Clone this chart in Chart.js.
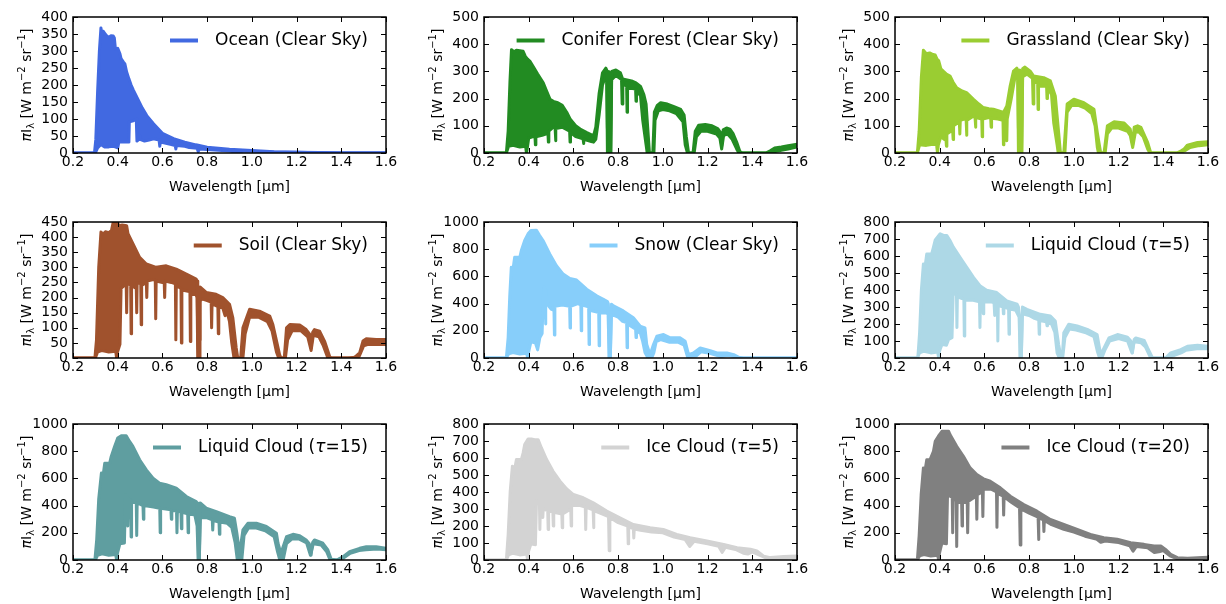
<!DOCTYPE html>
<html><head><meta charset="utf-8">
<script src="https://cdn.jsdelivr.net/npm/chart.js@4.4.1/dist/chart.umd.min.js"></script>
<style>
html,body{margin:0;padding:0;background:#fff;overflow:hidden;}
#wrap{position:relative;width:1226px;height:604px;}
.panel{position:absolute;}
</style></head><body><div id="wrap"></div>
<script>
// ---------- tick values ----------
const WAVELENGTH_TICKS = [0.2,0.4,0.6,0.8,1.0,1.2,1.4,1.6];
const Y_TICKS_400 = [0,50,100,150,200,250,300,350,400];
const Y_TICKS_450 = [0,50,100,150,200,250,300,350,400,450];
const Y_TICKS_500 = [0,100,200,300,400,500];
const Y_TICKS_800 = [0,100,200,300,400,500,600,700,800];
const Y_TICKS_1000 = [0,200,400,600,800,1000];

// ---------- spectra: [wavelength (um), radiance] upper / lower envelopes ----------
const oceanUpper = [[0.2,0],[0.296,0],[0.302,40],[0.31,180],[0.318,300],[0.325,368],[0.33,345],[0.335,358],[0.342,352],[0.35,345],[0.36,340],[0.37,345],[0.38,344],[0.385,338],[0.39,305],[0.40,308],[0.41,292],[0.415,278],[0.425,268],[0.432,262],[0.44,238],[0.45,218],[0.46,200],[0.47,185],[0.49,158],[0.51,132],[0.53,110],[0.56,86],[0.6,58],[0.65,42],[0.7,32],[0.75,24],[0.8,17],[0.9,11],[1.0,7],[1.1,4],[1.2,2.5],[1.3,1.5],[1.4,0.8],[1.5,0.5],[1.6,0.5]];
const oceanLower = [[0.2,0],[0.3,0],[0.31,15],[0.325,25],[0.34,18],[0.36,18],[0.38,20],[0.40,15],[0.405,32],[0.45,32],[0.452,92],[0.47,95],[0.483,100],[0.486,35],[0.495,40],[0.498,52],[0.5,40],[0.52,35],[0.54,38],[0.56,42],[0.585,38],[0.588,20],[0.591,32],[0.64,25],[0.657,22],[0.66,12],[0.663,22],[0.7,20],[0.72,16],[0.755,14],[0.76,4],[0.765,12],[0.8,10],[0.9,6],[0.93,2],[0.96,5],[1.0,5],[1.1,2],[1.2,2],[1.3,1],[1.4,0],[1.6,0.3]];

const coniferUpper = [[0.2,0],[0.3,0],[0.308,80],[0.316,260],[0.323,380],[0.335,372],[0.345,378],[0.36,376],[0.375,374],[0.385,355],[0.395,345],[0.405,338],[0.42,318],[0.44,290],[0.465,258],[0.48,228],[0.495,198],[0.51,190],[0.53,185],[0.55,175],[0.57,150],[0.585,125],[0.61,100],[0.63,88],[0.66,75],[0.69,63],[0.70,95],[0.715,220],[0.73,295],[0.745,312],[0.749,305],[0.752,90],[0.755,90],[0.757,300],[0.759,260],[0.762,0],[0.767,0],[0.771,300],[0.79,305],[0.81,295],[0.82,272],[0.86,265],[0.88,258],[0.9,245],[0.915,215],[0.925,180],[0.935,60],[0.94,0],[0.955,0],[0.962,150],[0.975,175],[0.99,185],[1.02,180],[1.05,170],[1.08,160],[1.095,140],[1.105,60],[1.115,0],[1.135,0],[1.145,80],[1.16,102],[1.19,105],[1.22,100],[1.245,90],[1.256,78],[1.263,25],[1.27,85],[1.285,92],[1.3,88],[1.315,70],[1.33,40],[1.345,5],[1.355,0],[1.46,0],[1.48,8],[1.5,18],[1.53,22],[1.56,27],[1.6,32]];
const coniferLower = [[0.2,0],[0.3,0],[0.31,25],[0.33,28],[0.36,22],[0.386,25],[0.39,0],[0.394,20],[0.4,55],[0.42,60],[0.428,60],[0.43,30],[0.432,60],[0.46,65],[0.486,72],[0.488,40],[0.49,80],[0.51,95],[0.518,92],[0.52,45],[0.522,90],[0.55,95],[0.583,80],[0.585,40],[0.587,75],[0.61,60],[0.643,52],[0.645,35],[0.647,50],[0.68,42],[0.69,40],[0.7,50],[0.715,140],[0.73,250],[0.745,285],[0.749,270],[0.752,0],[0.755,0],[0.757,270],[0.759,200],[0.762,0],[0.767,0],[0.771,270],[0.79,285],[0.815,270],[0.818,180],[0.821,255],[0.838,245],[0.84,150],[0.842,240],[0.878,235],[0.88,190],[0.882,230],[0.9,210],[0.91,120],[0.925,30],[0.93,0],[0.96,0],[0.965,120],[0.98,155],[1.0,160],[1.03,155],[1.06,145],[1.09,115],[1.1,30],[1.11,0],[1.14,0],[1.15,60],[1.17,80],[1.2,80],[1.24,70],[1.255,55],[1.263,15],[1.272,65],[1.29,70],[1.31,50],[1.33,15],[1.34,0],[1.47,0],[1.5,5],[1.53,10],[1.56,15],[1.6,22]];

const grassUpper = [[0.2,0],[0.3,0],[0.308,80],[0.318,280],[0.327,378],[0.34,365],[0.355,368],[0.37,362],[0.38,360],[0.388,345],[0.395,340],[0.405,310],[0.417,300],[0.43,290],[0.446,283],[0.46,260],[0.476,240],[0.5,228],[0.52,222],[0.55,198],[0.575,180],[0.595,167],[0.62,163],[0.64,161],[0.665,155],[0.685,149],[0.7,173],[0.715,246],[0.73,301],[0.745,312],[0.749,305],[0.752,90],[0.755,90],[0.757,305],[0.759,260],[0.762,0],[0.767,0],[0.771,310],[0.78,316],[0.805,301],[0.82,283],[0.865,277],[0.895,265],[0.917,210],[0.932,75],[0.94,0],[0.955,0],[0.97,180],[1.0,198],[1.045,185],[1.09,161],[1.105,75],[1.12,0],[1.135,0],[1.15,100],[1.18,115],[1.225,110],[1.252,88],[1.263,30],[1.27,95],[1.285,100],[1.3,94],[1.33,39],[1.344,0],[1.46,0],[1.48,8],[1.493,15],[1.508,29],[1.553,39],[1.6,41]];
const grassLower = [[0.2,0],[0.3,0],[0.31,30],[0.34,28],[0.37,32],[0.386,30],[0.39,0],[0.394,30],[0.405,60],[0.42,50],[0.428,50],[0.43,25],[0.432,70],[0.45,80],[0.458,80],[0.46,50],[0.462,100],[0.48,110],[0.488,110],[0.49,70],[0.492,120],[0.51,125],[0.518,125],[0.52,65],[0.522,120],[0.55,135],[0.558,130],[0.56,95],[0.562,130],[0.588,125],[0.59,60],[0.592,125],[0.62,130],[0.628,128],[0.63,95],[0.632,128],[0.66,125],[0.683,120],[0.685,30],[0.687,115],[0.698,110],[0.7,45],[0.702,125],[0.72,200],[0.735,270],[0.745,288],[0.749,275],[0.752,0],[0.755,0],[0.757,275],[0.759,200],[0.762,0],[0.767,0],[0.771,280],[0.79,290],[0.815,275],[0.818,180],[0.821,265],[0.838,255],[0.84,160],[0.842,245],[0.878,245],[0.88,200],[0.882,240],[0.9,215],[0.91,110],[0.925,30],[0.93,0],[0.96,0],[0.97,150],[0.99,175],[1.02,175],[1.05,165],[1.08,145],[1.095,100],[1.105,20],[1.11,0],[1.14,0],[1.15,70],[1.17,92],[1.2,92],[1.24,80],[1.252,65],[1.263,20],[1.275,75],[1.29,78],[1.31,60],[1.33,15],[1.34,0],[1.47,0],[1.5,10],[1.52,20],[1.56,27],[1.6,30]];

const soilUpper = [[0.2,0],[0.298,0],[0.305,60],[0.315,300],[0.325,417],[0.335,410],[0.345,418],[0.36,415],[0.372,422],[0.38,450],[0.385,440],[0.395,455],[0.405,438],[0.42,440],[0.44,438],[0.446,411],[0.468,378],[0.498,333],[0.528,311],[0.572,300],[0.617,305],[0.662,294],[0.707,278],[0.751,261],[0.755,255],[0.758,60],[0.761,0],[0.764,60],[0.768,235],[0.796,217],[0.84,211],[0.87,200],[0.9,178],[0.915,133],[0.93,33],[0.937,0],[0.95,0],[0.96,100],[0.99,161],[1.034,155],[1.08,139],[1.094,111],[1.124,11],[1.13,0],[1.145,0],[1.155,100],[1.17,111],[1.214,109],[1.243,94],[1.258,80],[1.265,33],[1.272,85],[1.28,94],[1.303,89],[1.325,56],[1.348,5],[1.355,0],[1.43,0],[1.46,2],[1.482,17],[1.497,56],[1.512,64],[1.556,61],[1.6,61]];
const soilLower = [[0.2,0],[0.3,0],[0.31,20],[0.33,25],[0.36,20],[0.391,22],[0.395,0],[0.399,20],[0.41,45],[0.415,230],[0.43,240],[0.438,240],[0.44,150],[0.442,250],[0.458,240],[0.46,80],[0.462,240],[0.483,230],[0.485,150],[0.487,250],[0.503,245],[0.505,110],[0.507,240],[0.528,250],[0.53,200],[0.532,255],[0.56,260],[0.568,255],[0.57,130],[0.572,255],[0.6,250],[0.608,250],[0.61,200],[0.612,255],[0.64,250],[0.658,245],[0.66,60],[0.662,240],[0.683,230],[0.685,50],[0.687,225],[0.72,220],[0.723,218],[0.725,55],[0.727,215],[0.75,210],[0.755,200],[0.758,0],[0.764,0],[0.768,190],[0.78,195],[0.8,190],[0.818,185],[0.82,100],[0.822,180],[0.848,170],[0.85,80],[0.852,170],[0.87,165],[0.88,140],[0.89,150],[0.9,120],[0.91,50],[0.92,0],[0.96,0],[0.97,80],[0.99,135],[1.03,135],[1.07,120],[1.09,90],[1.11,20],[1.12,0],[1.15,0],[1.16,60],[1.18,90],[1.22,90],[1.25,70],[1.265,25],[1.275,75],[1.3,70],[1.32,40],[1.34,0],[1.44,0],[1.48,5],[1.5,40],[1.52,45],[1.56,45],[1.6,45]];

const snowUpper = [[0.2,0],[0.3,0],[0.308,150],[0.315,450],[0.322,667],[0.33,654],[0.337,740],[0.36,740],[0.367,790],[0.382,864],[0.397,913],[0.41,938],[0.434,940],[0.449,901],[0.464,864],[0.494,765],[0.524,679],[0.554,617],[0.584,585],[0.614,573],[0.659,506],[0.704,457],[0.734,432],[0.752,415],[0.756,400],[0.76,0],[0.765,0],[0.77,395],[0.779,383],[0.823,346],[0.868,296],[0.898,235],[0.92,222],[0.928,99],[0.943,25],[0.958,99],[0.973,160],[1.003,173],[1.033,148],[1.078,148],[1.1,123],[1.115,25],[1.137,37],[1.167,74],[1.212,54],[1.242,37],[1.287,37],[1.317,25],[1.34,5],[1.36,0],[1.6,0]];
const snowLower = [[0.2,0],[0.3,0],[0.31,30],[0.33,40],[0.36,30],[0.391,35],[0.395,0],[0.399,40],[0.41,120],[0.43,110],[0.44,60],[0.45,150],[0.46,180],[0.465,450],[0.47,520],[0.473,500],[0.475,250],[0.477,470],[0.49,380],[0.5,360],[0.513,350],[0.515,170],[0.517,380],[0.55,390],[0.583,380],[0.585,220],[0.587,380],[0.62,400],[0.633,390],[0.635,200],[0.637,390],[0.66,380],[0.668,375],[0.67,100],[0.672,350],[0.7,340],[0.713,335],[0.715,90],[0.717,330],[0.75,330],[0.755,320],[0.76,0],[0.765,0],[0.77,320],[0.8,300],[0.82,270],[0.838,260],[0.84,75],[0.842,250],[0.87,220],[0.878,215],[0.88,150],[0.882,200],[0.9,180],[0.91,120],[0.92,40],[0.93,10],[0.95,0],[0.96,40],[0.97,120],[0.99,135],[1.03,115],[1.07,115],[1.095,95],[1.11,10],[1.15,15],[1.17,45],[1.21,35],[1.24,20],[1.26,10],[1.29,20],[1.32,10],[1.34,0],[1.6,0]];

const liquid5Upper = [[0.2,0],[0.302,0],[0.31,150],[0.318,400],[0.327,553],[0.334,533],[0.342,612],[0.364,612],[0.372,652],[0.38,695],[0.402,731],[0.417,721],[0.432,721],[0.446,691],[0.461,652],[0.491,592],[0.521,533],[0.551,474],[0.58,425],[0.61,399],[0.655,385],[0.7,336],[0.746,316],[0.752,300],[0.757,240],[0.76,0],[0.765,0],[0.77,300],[0.79,286],[0.85,257],[0.895,247],[0.917,217],[0.932,79],[0.943,0],[0.948,0],[0.955,148],[0.977,198],[1.015,188],[1.06,168],[1.104,138],[1.12,20],[1.135,59],[1.157,118],[1.195,138],[1.24,122],[1.255,100],[1.262,30],[1.27,110],[1.277,118],[1.315,103],[1.33,59],[1.352,0],[1.41,0],[1.433,30],[1.478,49],[1.508,69],[1.553,75],[1.6,69]];
const liquid5Lower = [[0.2,0],[0.3,0],[0.31,30],[0.33,40],[0.36,30],[0.391,35],[0.395,0],[0.399,40],[0.41,80],[0.43,75],[0.44,110],[0.455,120],[0.46,370],[0.47,380],[0.475,370],[0.477,180],[0.479,360],[0.5,350],[0.508,345],[0.51,130],[0.512,340],[0.55,340],[0.578,330],[0.58,180],[0.582,330],[0.593,330],[0.595,260],[0.597,330],[0.63,330],[0.643,325],[0.645,250],[0.647,320],[0.658,315],[0.66,100],[0.662,310],[0.683,300],[0.685,260],[0.687,300],[0.708,290],[0.71,140],[0.712,290],[0.74,280],[0.755,240],[0.76,0],[0.765,0],[0.77,260],[0.8,250],[0.82,235],[0.843,225],[0.845,140],[0.847,220],[0.87,215],[0.878,210],[0.88,190],[0.882,205],[0.9,200],[0.915,150],[0.925,30],[0.935,0],[0.95,0],[0.96,120],[0.98,170],[1.01,165],[1.05,150],[1.09,125],[1.105,40],[1.115,0],[1.125,0],[1.14,50],[1.16,100],[1.2,115],[1.24,100],[1.26,30],[1.27,95],[1.3,90],[1.32,65],[1.34,10],[1.35,0],[1.42,0],[1.45,15],[1.48,30],[1.5,45],[1.55,55],[1.6,55]];

const liquid15Upper = [[0.2,0],[0.298,0],[0.306,150],[0.315,450],[0.327,639],[0.334,614],[0.342,712],[0.364,712],[0.371,762],[0.386,835],[0.4,897],[0.416,914],[0.438,914],[0.453,872],[0.468,835],[0.498,737],[0.528,663],[0.558,602],[0.587,565],[0.617,553],[0.662,528],[0.707,467],[0.751,430],[0.755,420],[0.758,300],[0.761,0],[0.765,0],[0.769,420],[0.796,381],[0.841,356],[0.9,319],[0.922,307],[0.933,197],[0.945,49],[0.96,221],[0.982,270],[1.02,270],[1.065,246],[1.11,197],[1.117,123],[1.13,49],[1.155,172],[1.184,189],[1.214,179],[1.243,147],[1.257,120],[1.265,37],[1.272,130],[1.28,147],[1.318,123],[1.34,74],[1.355,5],[1.38,0],[1.408,25],[1.437,61],[1.482,86],[1.512,98],[1.556,98],[1.6,86]];
const liquid15Lower = [[0.2,0],[0.3,0],[0.31,35],[0.33,45],[0.36,35],[0.391,40],[0.395,0],[0.399,50],[0.41,120],[0.43,125],[0.435,480],[0.443,460],[0.445,250],[0.447,450],[0.458,440],[0.46,170],[0.462,430],[0.483,420],[0.485,180],[0.487,420],[0.513,400],[0.515,300],[0.517,400],[0.56,390],[0.588,380],[0.59,200],[0.592,380],[0.638,370],[0.64,300],[0.642,365],[0.663,360],[0.665,200],[0.667,360],[0.683,350],[0.685,230],[0.687,350],[0.713,340],[0.715,200],[0.717,340],[0.745,330],[0.755,250],[0.76,0],[0.765,0],[0.77,310],[0.8,310],[0.823,295],[0.825,220],[0.827,290],[0.853,280],[0.855,190],[0.857,280],[0.89,270],[0.91,240],[0.925,130],[0.935,0],[0.955,0],[0.965,180],[0.985,235],[1.02,235],[1.06,215],[1.1,170],[1.115,60],[1.125,0],[1.14,0],[1.155,120],[1.18,155],[1.21,155],[1.245,125],[1.262,35],[1.275,120],[1.31,110],[1.335,60],[1.35,0],[1.38,0],[1.41,15],[1.44,50],[1.48,70],[1.51,75],[1.56,80],[1.6,75]];

const ice5Upper = [[0.2,0],[0.3,0],[0.308,150],[0.317,400],[0.327,552],[0.337,532],[0.345,591],[0.367,591],[0.375,630],[0.382,679],[0.397,712],[0.412,712],[0.427,708],[0.442,708],[0.457,659],[0.48,591],[0.509,522],[0.54,464],[0.569,419],[0.6,385],[0.644,366],[0.689,336],[0.749,288],[0.808,248],[0.868,209],[0.943,190],[1.002,180],[1.062,151],[1.122,131],[1.197,112],[1.272,92],[1.332,72],[1.392,63],[1.421,53],[1.451,23],[1.481,14],[1.541,20],[1.6,23]];
const ice5Lower = [[0.2,0],[0.3,0],[0.31,30],[0.33,40],[0.36,30],[0.391,35],[0.395,0],[0.399,50],[0.41,95],[0.43,90],[0.435,350],[0.448,330],[0.45,180],[0.452,310],[0.461,300],[0.463,250],[0.465,300],[0.485,290],[0.487,180],[0.489,290],[0.508,280],[0.51,200],[0.512,280],[0.548,270],[0.55,190],[0.552,270],[0.588,300],[0.59,200],[0.592,320],[0.63,320],[0.653,312],[0.655,180],[0.657,310],[0.688,295],[0.69,190],[0.692,290],[0.73,270],[0.757,255],[0.76,55],[0.763,250],[0.8,220],[0.843,200],[0.845,95],[0.847,195],[0.868,185],[0.87,130],[0.872,182],[0.9,175],[0.95,165],[1.0,160],[1.05,135],[1.1,120],[1.12,80],[1.14,110],[1.2,95],[1.25,80],[1.265,45],[1.28,75],[1.33,60],[1.36,40],[1.38,35],[1.4,48],[1.43,30],[1.46,12],[1.5,10],[1.6,15]];

const ice20Upper = [[0.2,0],[0.3,0],[0.308,180],[0.317,480],[0.327,677],[0.334,653],[0.342,738],[0.357,738],[0.372,800],[0.38,873],[0.394,910],[0.41,946],[0.44,946],[0.446,922],[0.476,836],[0.506,763],[0.536,677],[0.566,628],[0.596,597],[0.626,579],[0.671,531],[0.716,469],[0.776,408],[0.835,359],[0.895,298],[0.955,262],[1.015,225],[1.074,188],[1.134,164],[1.194,152],[1.254,127],[1.314,115],[1.359,103],[1.389,103],[1.41,78],[1.433,42],[1.463,17],[1.508,12],[1.6,20]];
const ice20Lower = [[0.2,0],[0.3,0],[0.31,30],[0.33,40],[0.36,30],[0.391,35],[0.395,0],[0.399,50],[0.41,125],[0.43,120],[0.435,480],[0.456,460],[0.458,200],[0.46,450],[0.474,435],[0.476,100],[0.478,430],[0.498,420],[0.5,250],[0.502,420],[0.523,430],[0.525,200],[0.527,430],[0.564,470],[0.566,300],[0.568,480],[0.591,500],[0.593,320],[0.595,520],[0.63,520],[0.654,500],[0.656,240],[0.658,490],[0.684,470],[0.686,330],[0.688,465],[0.72,425],[0.757,385],[0.76,110],[0.763,375],[0.8,345],[0.84,315],[0.842,150],[0.844,310],[0.864,295],[0.866,210],[0.868,290],[0.9,260],[0.955,225],[1.0,205],[1.05,175],[1.1,155],[1.12,130],[1.14,140],[1.2,128],[1.25,105],[1.265,65],[1.28,100],[1.33,90],[1.36,55],[1.38,60],[1.4,70],[1.43,30],[1.46,10],[1.5,8],[1.6,15]];

const PANELS = [
  {label:'Ocean (Clear Sky)', color:'#4169e1', upper:oceanUpper, lower:oceanLower, yTicks:Y_TICKS_400},
  {label:'Conifer Forest (Clear Sky)', color:'#228b22', upper:coniferUpper, lower:coniferLower, yTicks:Y_TICKS_500},
  {label:'Grassland (Clear Sky)', color:'#9acd32', upper:grassUpper, lower:grassLower, yTicks:Y_TICKS_500},
  {label:'Soil (Clear Sky)', color:'#a0522d', upper:soilUpper, lower:soilLower, yTicks:Y_TICKS_450},
  {label:'Snow (Clear Sky)', color:'#87cefa', upper:snowUpper, lower:snowLower, yTicks:Y_TICKS_1000},
  {label:'Liquid Cloud (τ=5)', color:'#add8e6', upper:liquid5Upper, lower:liquid5Lower, yTicks:Y_TICKS_800},
  {label:'Liquid Cloud (τ=15)', color:'#5f9ea0', upper:liquid15Upper, lower:liquid15Lower, yTicks:Y_TICKS_1000},
  {label:'Ice Cloud (τ=5)', color:'#d3d3d3', upper:ice5Upper, lower:ice5Lower, yTicks:Y_TICKS_800},
  {label:'Ice Cloud (τ=20)', color:'#808080', upper:ice20Upper, lower:ice20Lower, yTicks:Y_TICKS_1000}
];

// ---------- layout ----------
const FONT = "'DejaVu Sans', sans-serif";
const PLOT_LEFT = [73, 484, 895];
const PLOT_TOP = [17, 222, 424];
const LEFT_SPACE = 73, TOP_SPACE = 17, RIGHT_SPACE = 18, BOTTOM_SPACE = 43;
const CW = 404, CH = 196;

function framePlugin(panel){
  return {
    id:'frameAndText',
    afterDatasetsDraw(chart){
      const {ctx, chartArea:a, scales:{x, y}} = chart;
      ctx.save();
      ctx.strokeStyle = '#000';
      ctx.lineWidth = 1;
      ctx.beginPath();
      WAVELENGTH_TICKS.forEach(v => {
        const px = Math.round(x.getPixelForValue(v)) + 0.5;
        ctx.moveTo(px, a.bottom); ctx.lineTo(px, a.bottom - 5);
        ctx.moveTo(px, a.top); ctx.lineTo(px, a.top + 5);
      });
      panel.yTicks.forEach(v => {
        const py = Math.round(y.getPixelForValue(v)) + 0.5;
        ctx.moveTo(a.left, py); ctx.lineTo(a.left + 5, py);
        ctx.moveTo(a.right, py); ctx.lineTo(a.right - 5, py);
      });
      ctx.stroke();
      ctx.lineWidth = 1.5;
      ctx.strokeRect(a.left, a.top, a.right - a.left, a.bottom - a.top);
      ctx.restore();
    },
    afterDraw(chart){
      const {ctx, chartArea:a} = chart;
      ctx.save();
      // legend
      const parts = [];
      panel.label.split(/(τ)/).forEach(t => { if (t) parts.push({t, italic: t === 'τ'}); });
      let w = 0;
      parts.forEach(p => { ctx.font = (p.italic ? 'italic ' : '') + '17px ' + FONT; p.w = ctx.measureText(p.t).width; w += p.w; });
      const ly = a.top + 23.5;
      let tx = a.right - 18 - w;
      ctx.strokeStyle = panel.color; ctx.lineWidth = 4; ctx.lineCap = 'butt';
      ctx.beginPath(); ctx.moveTo(tx - 17 - 28, ly); ctx.lineTo(tx - 17, ly); ctx.stroke();
      ctx.fillStyle = '#000'; ctx.textBaseline = 'middle'; ctx.textAlign = 'left';
      parts.forEach(p => { ctx.font = (p.italic ? 'italic ' : '') + '17px ' + FONT; ctx.fillText(p.t, tx, ly); tx += p.w; });
      // y-axis title
      const pieces = [
        {t:'π', f:'italic 14px ' + FONT, dy:0},
        {t:'I', f:'14px ' + FONT, dy:0},
        {t:'λ', f:'10px ' + FONT, dy:3},
        {t:' [W m', f:'14px ' + FONT, dy:0},
        {t:'−2', f:'10px ' + FONT, dy:-6},
        {t:' sr', f:'14px ' + FONT, dy:0},
        {t:'−1', f:'10px ' + FONT, dy:-6},
        {t:']', f:'14px ' + FONT, dy:0}
      ];
      let tw = 0;
      pieces.forEach(p => { ctx.font = p.f; p.w = ctx.measureText(p.t).width; tw += p.w; });
      ctx.translate(a.left - 47, (a.top + a.bottom) / 2);
      ctx.rotate(-Math.PI / 2);
      ctx.textBaseline = 'alphabetic';
      let px = -tw / 2;
      pieces.forEach(p => { ctx.font = p.f; ctx.fillText(p.t, px, 5 + p.dy); px += p.w; });
      ctx.restore();
    }
  };
}

const wrap = document.getElementById('wrap');
PANELS.forEach((panel, idx) => {
  const col = idx % 3, row = Math.floor(idx / 3);
  const div = document.createElement('div');
  div.className = 'panel';
  div.style.left = (PLOT_LEFT[col] - LEFT_SPACE) + 'px';
  div.style.top = (PLOT_TOP[row] - TOP_SPACE) + 'px';
  const cv = document.createElement('canvas');
  cv.width = CW; cv.height = CH;
  cv.style.width = CW + 'px'; cv.style.height = CH + 'px';
  div.appendChild(cv); wrap.appendChild(div);
  const toXY = arr => arr.map(p => ({x: p[0], y: p[1]}));
  const yMax = panel.yTicks[panel.yTicks.length - 1];
  new Chart(cv, {
    type: 'line',
    data: {datasets: [
      {label: panel.label, data: toXY(panel.upper), borderColor: panel.color, backgroundColor: panel.color,
       borderWidth: 3, pointRadius: 0, fill: false, tension: 0, clip: 0, borderJoinStyle: 'round'},
      {label: panel.label + ' lower', data: toXY(panel.lower), borderColor: panel.color, backgroundColor: panel.color,
       borderWidth: 3, pointRadius: 0, fill: '-1', tension: 0, clip: 0, borderJoinStyle: 'round'}
    ]},
    options: {
      responsive: false, animation: false, devicePixelRatio: 1,
      layout: {padding: {left: 0, top: TOP_SPACE, right: RIGHT_SPACE, bottom: 0}},
      plugins: {legend: {display: false}, tooltip: {enabled: false}, filler: {propagate: false}},
      scales: {
        x: {type: 'linear', min: 0.2, max: 1.6,
            grid: {display: false, drawTicks: false}, border: {display: false},
            ticks: {font: {family: FONT, size: 14}, color: '#000', padding: 1, maxRotation: 0, autoSkip: false,
                    callback: v => Number(v).toFixed(1)},
            afterBuildTicks: s => { s.ticks = WAVELENGTH_TICKS.map(v => ({value: v})); },
            afterFit: s => { s.height = BOTTOM_SPACE; },
            title: {display: true, text: 'Wavelength [μm]', font: {family: FONT, size: 14}, color: '#000', padding: {top: 0, bottom: 0}}},
        y: {type: 'linear', min: 0, max: yMax,
            grid: {display: false, drawTicks: false}, border: {display: false},
            ticks: {font: {family: FONT, size: 14}, color: '#000', padding: 5, autoSkip: false,
                    callback: v => String(v)},
            afterBuildTicks: s => { s.ticks = panel.yTicks.map(v => ({value: v})); },
            afterFit: s => { s.width = LEFT_SPACE; }}
      }
    },
    plugins: [framePlugin(panel)]
  });
});
</script></body></html>
